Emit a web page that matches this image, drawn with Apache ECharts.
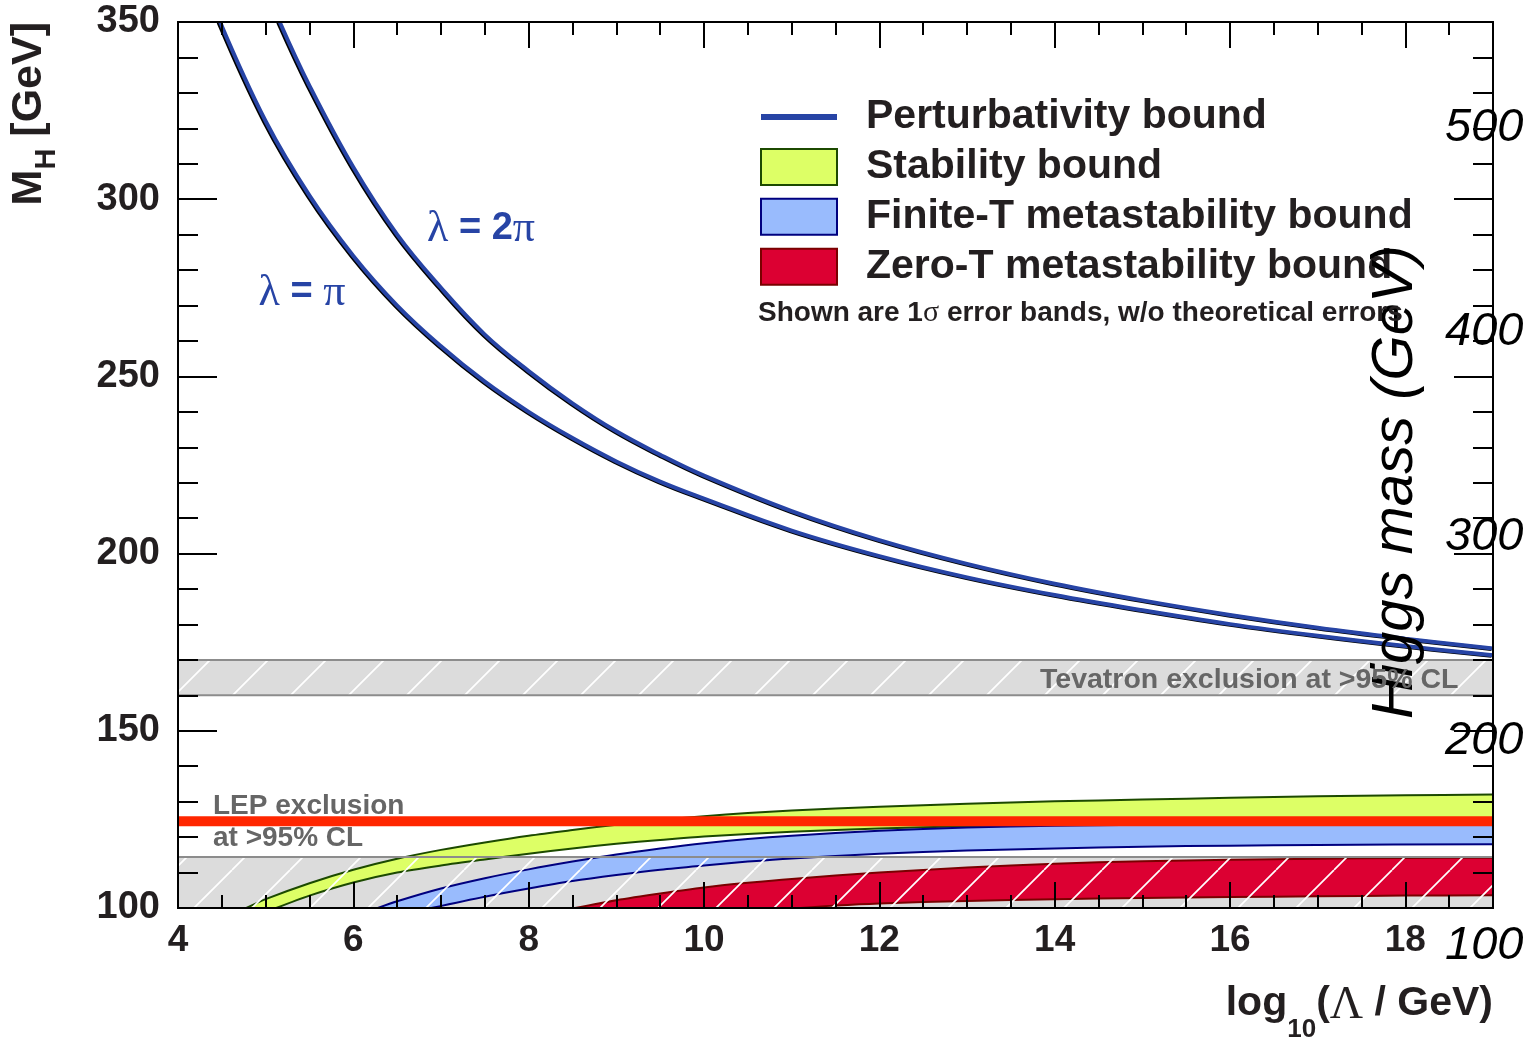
<!DOCTYPE html>
<html>
<head>
<meta charset="utf-8">
<title>Higgs mass bounds</title>
<script src="https://cdn.jsdelivr.net/npm/echarts@6/dist/echarts.min.js"></script>
<style>
  html, body { margin: 0; padding: 0; background: #fff; }
  #main { width: 1533px; height: 1037px; }
</style>
</head>
<body>
<div id="main"></div>
<script>
// values: x = log10(Lambda/GeV), y = M_H [GeV]
var xRange = [4, 19];
var yRange = [100, 350];
var rightAxisRange = [100, 500];

// perturbativity bound
var lambdaPi = [[4.48, 350], [5, 322], [5.5, 301], [6, 284], [6.5, 270], [7, 258.5], [7.5, 248.5], [8, 240],
  [8.5, 232.6], [9, 226], [9.5, 220.3], [10, 215.5], [11, 206.5], [12, 199.3], [13, 193.3], [14, 188.3],
  [15, 184], [16, 180.1], [17, 176.8], [18, 173.9], [19, 171.3]];
var lambda2Pi = [[5.16, 350], [5.5, 332], [6, 309], [6.5, 290], [7, 275], [7.5, 261.8], [8, 251.5],
  [8.5, 242.4], [9, 234.5], [9.5, 227.9], [10, 222], [11, 212], [12, 203.8], [13, 197.1], [14, 191.5],
  [15, 186.8], [16, 182.7], [17, 179.1], [18, 176], [19, 173.2]];

// stability bound (1 sigma band)
var stabilityUpper = [[4.78, 100], [5, 102.5], [5.5, 107], [6, 110.8], [6.5, 113.9], [7, 116.4], [7.5, 118.5],
  [8, 120.4], [8.5, 122], [9, 123.5], [9.5, 124.8], [10, 125.9], [10.5, 126.8], [11, 127.5], [12, 128.6],
  [13, 129.4], [14, 130.1], [15, 130.6], [16, 131.1], [17, 131.5], [18, 131.8], [19, 132]];
var stabilityLower = [[5.12, 100], [5.5, 103.5], [6, 107.2], [6.5, 110], [7, 112], [7.5, 113.7], [8, 115.3],
  [8.5, 116.8], [9, 118.1], [9.5, 119.2], [10, 120.2], [11, 121.5], [12, 122.4], [13, 123.1], [14, 123.6],
  [16, 124.1], [19, 124.5]];

// finite-T metastability bound
var finiteTUpper = [[6.28, 100], [6.5, 101.9], [7, 105.5], [7.5, 108.4], [8, 110.9], [8.5, 113.1], [9, 115.1],
  [9.5, 116.8], [10, 118.3], [10.5, 119.5], [11, 120.4], [12, 121.8], [13, 122.7], [14, 123.2], [16, 123.7],
  [19, 124]];
var finiteTLower = [[6.89, 100], [7.5, 103.2], [8, 105.5], [8.5, 107.6], [9, 109.3], [9.5, 110.8], [10, 112],
  [10.5, 113.1], [11, 114], [12, 115.3], [13, 116.2], [14, 116.8], [15, 117.3], [16, 117.6], [17, 117.8],
  [19, 118]];

// zero-T metastability bound
var zeroTUpper = [[8.53, 100], [9, 102.2], [9.5, 104.1], [10, 105.8], [10.5, 107.1], [11, 108.2], [12, 110],
  [13, 111.4], [14, 112.5], [15, 113.2], [16, 113.6], [17, 113.9], [18, 114.1], [19, 114.2]];
var zeroTLower = [[11.1, 100], [11.5, 100.7], [12, 101.3], [13, 102], [14, 102.5], [15, 102.8], [16, 103.1],
  [17, 103.3], [18, 103.5], [19, 103.6]];

// exclusions and measured mass
var lepLimit = 114.4;
var tevatronRange = [160, 170];
var higgsMass = 124.5;

var SANS = 'Liberation Sans, Arial, Helvetica, sans-serif';
var SERIF = 'Liberation Serif, Times New Roman, serif';
var DARK = '#231f20';
var BLUE = '#2744a5';

// white "/" hatch tile used for the exclusion regions
function makeHatch() {
  var s = 58;
  var c = document.createElement('canvas');
  c.width = s;
  c.height = s;
  var g = c.getContext('2d');
  g.strokeStyle = '#ffffff';
  g.lineWidth = 1.7;
  [-s, 0, s].forEach(function (dx) {
    g.beginPath();
    g.moveTo(dx, s);
    g.lineTo(dx + s, 0);
    g.stroke();
  });
  return { image: c, repeat: 'repeat' };
}
var hatch = makeHatch();

function px(api, pts) {
  return pts.map(function (p) { return api.coord(p); });
}

function rectShape(api, y0, y1) {
  var a = api.coord([xRange[0], y1]);
  var b = api.coord([xRange[1], y0]);
  return { x: a[0], y: a[1], width: b[0] - a[0], height: b[1] - a[1] };
}

function hLine(api, y) {
  var a = api.coord([xRange[0], y]);
  var b = api.coord([xRange[1], y]);
  return { type: 'line', shape: { x1: a[0], y1: a[1], x2: b[0], y2: b[1] },
    style: { stroke: '#8c8c8c', lineWidth: 2 } };
}

function bandSeries(name, upper, lower, fill, edge) {
  return {
    name: name,
    type: 'custom',
    z: 3,
    clip: true,
    itemStyle: { color: fill, borderColor: edge, borderWidth: 2 },
    data: [upper[0]],
    renderItem: function (params, api) {
      var up = px(api, upper);
      var lo = px(api, lower);
      var upEnd = up[up.length - 1];
      var loEnd = lo[lo.length - 1];
      // corners doubled so the smoothing keeps them sharp
      var ring = [up[0]].concat(up, [upEnd, loEnd], lo.slice().reverse(), [lo[0]]);
      return {
        type: 'group',
        children: [
          { type: 'polygon', shape: { points: ring, smooth: 0.3 }, style: { fill: fill } },
          { type: 'polyline', shape: { points: up, smooth: 0.3 }, style: { stroke: edge, lineWidth: 2, fill: null } },
          { type: 'polyline', shape: { points: lo, smooth: 0.3 }, style: { stroke: edge, lineWidth: 2, fill: null } }
        ]
      };
    }
  };
}

function curveSeries(data) {
  return {
    name: 'Perturbativity bound',
    type: 'line',
    z: 5,
    data: data,
    smooth: 0.4,
    symbol: 'none',
    itemStyle: { color: BLUE },
    lineStyle: { color: BLUE, width: 4, shadowColor: '#000', shadowBlur: 0, shadowOffsetX: -1.5, shadowOffsetY: 0.5 }
  };
}

function frameX(position, interval, tickLen, labels) {
  return {
    gridIndex: 0, type: 'value', position: position, min: xRange[0], max: xRange[1], interval: interval, z: 10,
    axisLine: { show: true, onZero: false, lineStyle: { color: '#000', width: 2 } },
    axisTick: { show: true, inside: true, length: tickLen, lineStyle: { color: '#000', width: 2 } },
    axisLabel: labels ? { show: true, margin: 14, fontSize: 37, fontWeight: 'bold', color: DARK, fontFamily: SANS,
      showMaxLabel: false } : { show: false },
    splitLine: { show: false }
  };
}

function frameY(position, labels) {
  return {
    gridIndex: 0, type: 'value', position: position, min: yRange[0], max: yRange[1], interval: 50, z: 10,
    axisLine: { show: true, onZero: false, lineStyle: { color: '#000', width: 2 } },
    axisTick: { show: true, inside: true, length: 39, lineStyle: { color: '#000', width: 2 } },
    minorTick: { show: true, splitNumber: 5, length: 20, lineStyle: { color: '#000', width: 2 } },
    axisLabel: labels ? { show: true, margin: 18, fontSize: 38, fontWeight: 'bold', color: DARK, fontFamily: SANS }
      : { show: false },
    splitLine: { show: false }
  };
}

var chart = echarts.init(document.getElementById('main'));

chart.setOption({
  animation: false,
  backgroundColor: '#fff',
  textStyle: { fontFamily: SANS },
  grid: [
    { left: 178, top: 22, width: 1315, height: 886, outerBoundsMode: 'none' },
    { left: 178, top: 127.5, width: 1267, height: 818, outerBoundsMode: 'none' }
  ],
  xAxis: [
    frameX('bottom', 2, 26, true),
    frameX('bottom', 0.5, 13, false),
    frameX('top', 2, 26, false),
    frameX('top', 0.5, 13, false),
    { gridIndex: 1, type: 'value', min: xRange[0], max: xRange[1], show: false }
  ],
  yAxis: [
    frameY('left', true),
    frameY('right', false),
    {
      gridIndex: 1, type: 'value', position: 'right', min: rightAxisRange[0], max: rightAxisRange[1], interval: 100,
      axisLine: { show: false }, axisTick: { show: false }, splitLine: { show: false },
      axisLabel: { margin: 0, fontSize: 47, fontStyle: 'italic', color: '#000', fontFamily: SANS }
    }
  ],
  legend: {
    orient: 'vertical',
    left: 760,
    top: 96.5,
    padding: 0,
    itemWidth: 76,
    itemHeight: 36,
    itemGap: 8.9,
    selectedMode: false,
    textStyle: { fontSize: 41, fontWeight: 'bold', color: DARK, fontFamily: SANS, lineHeight: 36, padding: [0, 0, 0, 24] },
    data: [
      { name: 'Perturbativity bound', icon: 'path://M0,0 L76,0 L76,6 L0,6 Z', itemStyle: { color: BLUE } },
      { name: 'Stability bound', icon: 'rect' },
      { name: 'Finite-T metastability bound', icon: 'rect' },
      { name: 'Zero-T metastability bound', icon: 'rect' }
    ]
  },
  series: [
    {
      name: 'LEP fill', type: 'custom', z: 1, clip: true, data: [[xRange[0], lepLimit]],
      renderItem: function (params, api) {
        return { type: 'rect', shape: rectShape(api, yRange[0], lepLimit), style: { fill: '#dcdcdc' } };
      }
    },
    {
      name: 'Tevatron', type: 'custom', z: 1, clip: true, data: [[xRange[0], tevatronRange[1]]],
      renderItem: function (params, api) {
        var r = rectShape(api, tevatronRange[0], tevatronRange[1]);
        return {
          type: 'group',
          children: [
            { type: 'rect', shape: r, style: { fill: '#dcdcdc' } },
            { type: 'rect', shape: r, style: { fill: hatch } },
            hLine(api, tevatronRange[0]),
            hLine(api, tevatronRange[1])
          ]
        };
      }
    },
    bandSeries('Stability bound', stabilityUpper, stabilityLower, '#ddff66', '#1c4a00'),
    bandSeries('Finite-T metastability bound', finiteTUpper, finiteTLower, '#99bbfd', '#00007f'),
    bandSeries('Zero-T metastability bound', zeroTUpper, zeroTLower, '#dc0032', '#7a0000'),
    {
      name: 'LEP hatch', type: 'custom', z: 4, clip: true, data: [[xRange[0], lepLimit]],
      renderItem: function (params, api) {
        return {
          type: 'group',
          children: [
            { type: 'rect', shape: rectShape(api, yRange[0], lepLimit), style: { fill: hatch } },
            hLine(api, lepLimit)
          ]
        };
      }
    },
    curveSeries(lambdaPi),
    curveSeries(lambda2Pi),
    {
      name: 'Higgs', type: 'line', z: 6, symbol: 'none',
      data: [[xRange[0], higgsMass], [xRange[1], higgsMass]],
      lineStyle: { color: '#ff2600', width: 10, cap: 'butt' }
    }
  ],
  graphic: [
    {
      type: 'text', x: 30.5, y: 22, rotation: Math.PI / 2, z: 20,
      style: {
        text: '{m|M}{s|H}{m| [GeV]}',
        align: 'right', textAlign: 'right', verticalAlign: 'middle', textVerticalAlign: 'middle',
        rich: {
          m: { fontSize: 43, fontWeight: 'bold', fontFamily: SANS, fill: DARK, color: DARK, lineHeight: 46, verticalAlign: 'top' },
          s: { fontSize: 29, fontWeight: 'bold', fontFamily: SANS, fill: DARK, color: DARK, lineHeight: 31, padding: [25, 0, 0, 0], verticalAlign: 'top' }
        }
      }
    },
    {
      type: 'text', x: 1493, y: 1005, z: 20,
      style: {
        text: '{m|log}{s|10}{m|(}{g|Λ}{m| / GeV)}',
        align: 'right', textAlign: 'right', verticalAlign: 'middle', textVerticalAlign: 'middle',
        rich: {
          m: { fontSize: 41, fontWeight: 'bold', fontFamily: SANS, fill: DARK, color: DARK, lineHeight: 44, verticalAlign: 'top' },
          g: { fontSize: 46, fontFamily: SERIF, fill: DARK, color: DARK, lineHeight: 44, verticalAlign: 'top' },
          s: { fontSize: 26, fontWeight: 'bold', fontFamily: SANS, fill: DARK, color: DARK, lineHeight: 28, padding: [34, 0, 0, 0], verticalAlign: 'top' }
        }
      }
    },
    {
      type: 'text', x: 1396, y: 482, rotation: Math.PI / 2, z: 20,
      style: {
        text: 'Higgs mass (GeV)', fontSize: 58, fontStyle: 'italic', fontFamily: SANS, fill: '#000',
        align: 'center', textAlign: 'center', verticalAlign: 'middle', textVerticalAlign: 'middle'
      }
    },
    {
      type: 'text', x: 758, y: 313, z: 20,
      style: {
        text: '{a|Shown are 1}{g|σ}{a| error bands, w/o theoretical errors}',
        align: 'left', textAlign: 'left', verticalAlign: 'middle', textVerticalAlign: 'middle',
        rich: {
          a: { fontSize: 28, fontWeight: 'bold', fontFamily: SANS, fill: DARK, color: DARK },
          g: { fontSize: 30, fontFamily: SERIF, fill: DARK, color: DARK }
        }
      }
    },
    {
      type: 'text', x: 1040, y: 680, z: 20,
      style: {
        text: 'Tevatron exclusion at >95% CL', fontSize: 28.5, fontWeight: 'bold', fontFamily: SANS, fill: '#666',
        align: 'left', textAlign: 'left', verticalAlign: 'middle', textVerticalAlign: 'middle'
      }
    },
    {
      type: 'text', x: 213, y: 806, z: 20,
      style: {
        text: 'LEP exclusion', fontSize: 28, fontWeight: 'bold', fontFamily: SANS, fill: '#666',
        align: 'left', textAlign: 'left', verticalAlign: 'middle', textVerticalAlign: 'middle'
      }
    },
    {
      type: 'text', x: 213, y: 838, z: 20,
      style: {
        text: 'at >95% CL', fontSize: 28, fontWeight: 'bold', fontFamily: SANS, fill: '#666',
        align: 'left', textAlign: 'left', verticalAlign: 'middle', textVerticalAlign: 'middle'
      }
    },
    {
      type: 'text', x: 302, y: 293, z: 20,
      style: {
        text: '{g|λ}{b| = }{g|π}',
        align: 'center', textAlign: 'center', verticalAlign: 'middle', textVerticalAlign: 'middle',
        rich: {
          g: { fontSize: 44, fontFamily: SERIF, fill: BLUE, color: BLUE },
          b: { fontSize: 38, fontWeight: 'bold', fontFamily: SANS, fill: BLUE, color: BLUE }
        }
      }
    },
    {
      type: 'text', x: 481, y: 229, z: 20,
      style: {
        text: '{g|λ}{b| = 2}{g|π}',
        align: 'center', textAlign: 'center', verticalAlign: 'middle', textVerticalAlign: 'middle',
        rich: {
          g: { fontSize: 44, fontFamily: SERIF, fill: BLUE, color: BLUE },
          b: { fontSize: 38, fontWeight: 'bold', fontFamily: SANS, fill: BLUE, color: BLUE }
        }
      }
    }
  ]
});
</script>
</body>
</html>
